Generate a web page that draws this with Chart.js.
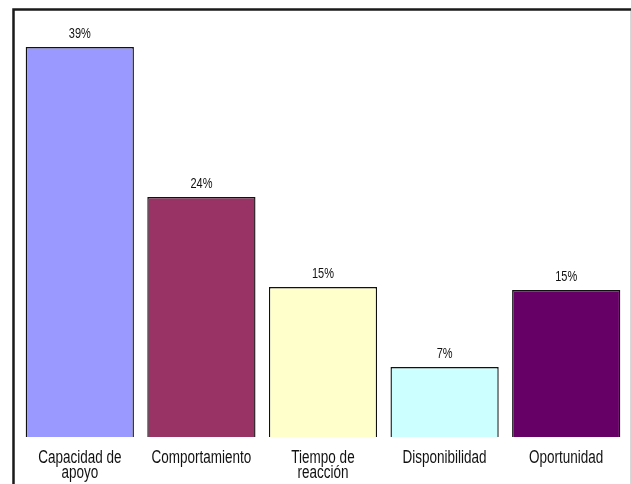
<!DOCTYPE html>
<html><head><meta charset="utf-8">
<script src="https://cdn.jsdelivr.net/npm/chart.js@4"></script>
<style>html,body{margin:0;padding:0;background:#fff;}#wrap{width:631px;height:484px;position:relative;}</style>
</head><body><div id="wrap"><canvas id="c"></canvas></div>
<script>
const categories = [["Capacidad de","apoyo"],"Comportamiento",["Tiempo de","reacción"],"Disponibilidad","Oportunidad"];
const values = [39, 24, 15, 7, 14.7];
const valueLabels = ["39%","24%","15%","7%","15%"];
const barColors = ["#9999FF","#993366","#FFFFCC","#CCFFFF","#660066"];
const FONT = "'Liberation Sans', Arial, sans-serif";
const STRETCH = 1.4;

const framePlugin = {
  id:'frame',
  beforeDraw(chart){
    const ctx = chart.ctx;
    ctx.save();
    ctx.fillStyle = '#fff';
    ctx.fillRect(0,0,chart.width,chart.height);
    ctx.strokeStyle = '#1a1a1a';
    ctx.lineWidth = 2.5;
    ctx.beginPath();
    ctx.moveTo(13.5, chart.height);
    ctx.lineTo(13.5, 9.5);
    ctx.lineTo(chart.width, 9.5);
    ctx.stroke();
    ctx.strokeStyle = '#d8d8d8';
    ctx.lineWidth = 1;
    ctx.beginPath();
    ctx.moveTo(630.5, 11);
    ctx.lineTo(630.5, chart.height);
    ctx.stroke();
    ctx.restore();
  }
};
function stretchedText(ctx, txt, x, y){
  ctx.save();
  ctx.translate(x, y);
  ctx.scale(1, STRETCH);
  ctx.fillText(txt, 0, 0);
  ctx.restore();
}
const labelPlugin = {
  id:'vlabels',
  afterDatasetsDraw(chart){
    const ctx = chart.ctx;
    const meta = chart.getDatasetMeta(0);
    ctx.save();
    ctx.font = "11px " + FONT;
    ctx.fillStyle = '#111';
    ctx.textAlign = 'center';
    ctx.textBaseline = 'alphabetic';
    meta.data.forEach((bar,i)=>{
      stretchedText(ctx, valueLabels[i], bar.x, bar.y - 9);
    });
    const xs = chart.scales.x;
    const base = chart.chartArea.bottom;
    ctx.font = "13.5px " + FONT;
    chart.data.labels.forEach((lab,i)=>{
      const x = xs.getPixelForValue(i);
      const lines = Array.isArray(lab) ? lab : [lab];
      lines.forEach((ln,j)=>{
        stretchedText(ctx, ln, x, base + 26 + j*15);
      });
    });
    ctx.restore();
  }
};

new Chart(document.getElementById('c'), {
  type:'bar',
  data:{labels:categories, datasets:[{data:values, backgroundColor:barColors, borderColor:'#111', borderWidth:1.4, barPercentage:0.89, categoryPercentage:1}]},
  options:{
    responsive:true, maintainAspectRatio:false, animation:false,
    devicePixelRatio:1,
    layout:{padding:{top:37,left:19,right:4,bottom:0}},
    plugins:{legend:{display:false}, tooltip:{enabled:false}},
    scales:{
      y:{display:false, min:0, max:40},
      x:{
        grid:{display:false, drawTicks:false},
        border:{display:false},
        ticks:{display:false},
        afterFit(s){ s.height = 47; }
      }
    }
  },
  plugins:[framePlugin, labelPlugin]
});
</script></body></html>
